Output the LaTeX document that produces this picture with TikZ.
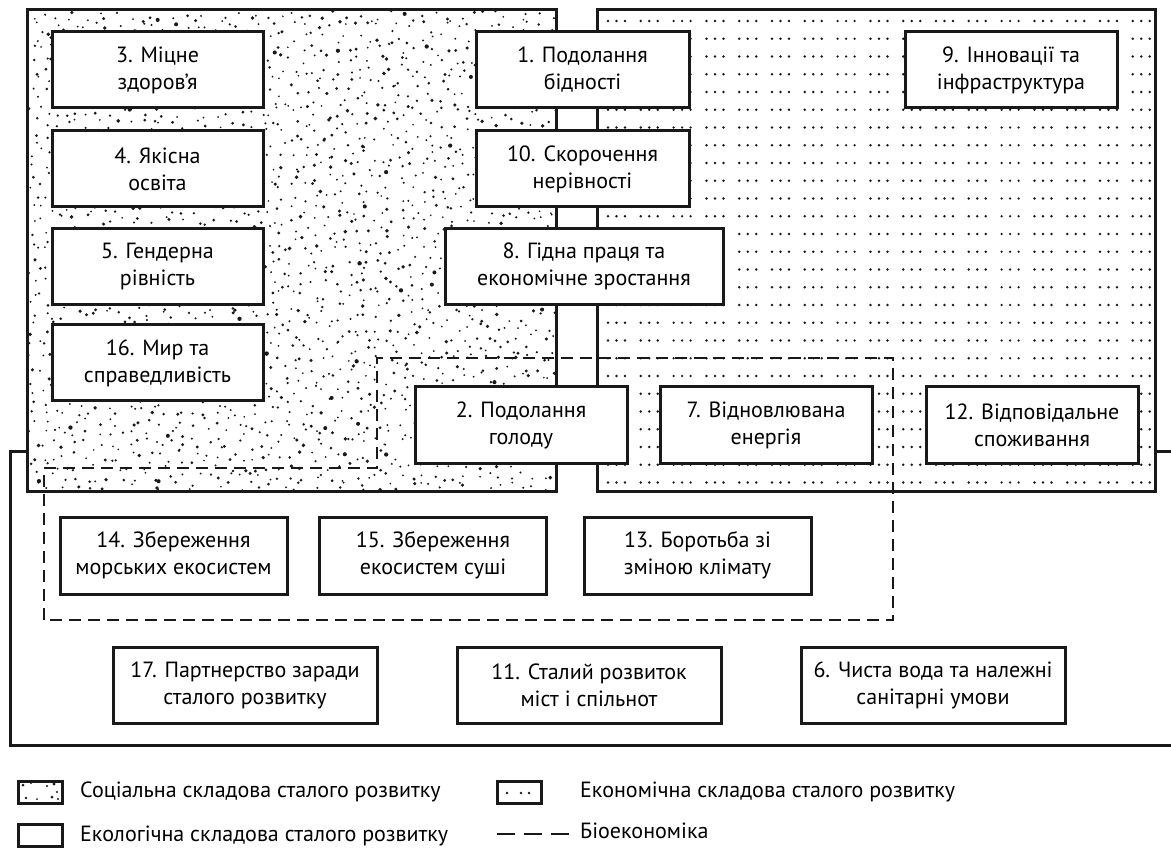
\documentclass[tikz,border=0pt]{standalone}
\usepackage{fontspec}
\setmainfont{PT Sans}
\begin{document}
\begin{tikzpicture}[x=1pt,y=-1pt,
  frame/.style={draw=black!90, line width=3pt},
  bio/.style={draw=black!90, line width=2.5pt, dash pattern=on 12pt off 7pt},
  goal/.style={draw=black!90, line width=3pt, fill=white, align=center, inner sep=0pt,
    font=\fontsize{22}{27}\selectfont},
  legtext/.style={anchor=west, inner sep=0pt, font=\fontsize{22}{27}\selectfont},
  sdot/.style={fill=black!90},
  ]
\useasboundingbox (0,0) rectangle (1171,850);
% ecological component (outer frame)
\draw[frame] (1171,452) -- (10,452) -- (10,745) -- (1171,745);
% social component
\fill[white] (27,10) rectangle (556,491);
\begin{scope}
\clip (28,11) rectangle (555,490);
\pgfmathsetseed{12345}
\foreach \i in {0,...,48}{
  \foreach \j in {0,...,44}{
    \pgfmathsetmacro\px{28+\i*10.8+10.8*rnd}
    \pgfmathsetmacro\py{11+\j*10.7+10.7*rnd}
    \pgfmathsetmacro\pr{0.95+1.35*rnd*rnd}
    \fill[sdot] (\px,\py) circle[radius=\pr pt];
  }
}
\end{scope}
\draw[frame] (27,10) rectangle (556,491);
% economic component
\fill[white] (597,10) rectangle (1155,491);
\foreach \r in {0,...,26}{
  \foreach \k in {0,...,16}{
    \foreach \d in {0,8.5,17}{
      \fill[sdot] (608+\k*32.8+\d, 21+\r*17.75) circle[radius=1.35pt];
    }
  }
}
\draw[frame] (597,10) rectangle (1155,491);
% bioeconomy
\draw[bio] (44,620) -- (44,468) -- (377,468) -- (377,358) -- (893,358) -- (893,620) -- cycle;
% goals
\node[goal, minimum width=211pt, minimum height=76pt] (g3) at (157.5,70) {3. Міцне\\здоров’я};
\node[goal, minimum width=211pt, minimum height=76pt] (g4) at (157.5,169) {4. Якісна\\освіта};
\node[goal, minimum width=211pt, minimum height=76pt] (g5) at (157.5,266.5) {5. Гендерна\\рівність};
\node[goal, minimum width=211pt, minimum height=76pt] (g16) at (157.5,363) {16. Мир та\\справедливість};
\node[goal, minimum width=213pt, minimum height=76pt] (g1) at (582.5,70) {1. Подолання\\бідності};
\node[goal, minimum width=213pt, minimum height=76pt] (g10) at (582.5,169) {10. Скорочення\\нерівності};
\node[goal, minimum width=278pt, minimum height=76pt] (g8) at (584,266.5) {8. Гідна праця та\\економічне зростання};
\node[goal, minimum width=212pt, minimum height=76pt] (g9) at (1011,70) {9. Інновації та\\інфраструктура};
\node[goal, minimum width=212pt, minimum height=76pt] (g2) at (521,425) {2. Подолання\\голоду};
\node[goal, minimum width=212pt, minimum height=76pt] (g7) at (766,425) {7. Відновлювана\\енергія};
\node[goal, minimum width=212pt, minimum height=76pt] (g12) at (1032,425) {12. Відповідальне\\споживання};
\node[goal, minimum width=227pt, minimum height=77pt] (g14) at (173.5,555.5) {14. Збереження\\морських екосистем};
\node[goal, minimum width=227pt, minimum height=77pt] (g15) at (433,555.5) {15. Збереження\\екосистем суші};
\node[goal, minimum width=227pt, minimum height=77pt] (g13) at (697.5,555.5) {13. Боротьба зі\\зміною клімату};
\node[goal, minimum width=264pt, minimum height=76pt] (g17) at (245,685) {17. Партнерство заради\\сталого розвитку};
\node[goal, minimum width=264pt, minimum height=76pt] (g11) at (589,685) {11. Сталий розвиток\\міст і спільнот};
\node[goal, minimum width=264pt, minimum height=76pt] (g6) at (933,685) {6. Чиста вода та належні\\санітарні умови};
% legend
\node[frame, minimum width=44pt, minimum height=22pt, inner sep=0pt] (lsoc) at (40,792) {};
\foreach \p/\q/\rr in {23/785/1.5, 31/783/1.0, 47/786/1.1, 54/784/1.6, 57/792/1.1, 26/798/1.3, 37/799/1.0, 52/797/1.5, 58/799/1.1}{
  \fill[sdot] (\p,\q) circle[radius=\rr pt];
}
\node[legtext] (tsoc) at (80,792) {Соціальна складова сталого розвитку};
\node[frame, minimum width=44pt, minimum height=22pt, inner sep=0pt] (leco) at (40,835) {};
\node[legtext] (teco) at (80,836) {Екологічна складова сталого розвитку};
\node[frame, minimum width=44pt, minimum height=22pt, inner sep=0pt] (lec) at (519,792) {};
\foreach \p in {507,521,529}{ \fill[sdot] (\p,793) circle[radius=1.35pt]; }
\node[legtext] (tec) at (580,792) {Економічна складова сталого розвитку};
\coordinate (lbA) at (497,834);
\coordinate (lbB) at (570,834);
\draw[draw=black!90, line width=2.5pt, dash pattern=on 18pt off 9pt] (lbA) -- (lbB);
\node[legtext] (tbio) at (580,831) {Біоекономіка};
\end{tikzpicture}
\end{document}
